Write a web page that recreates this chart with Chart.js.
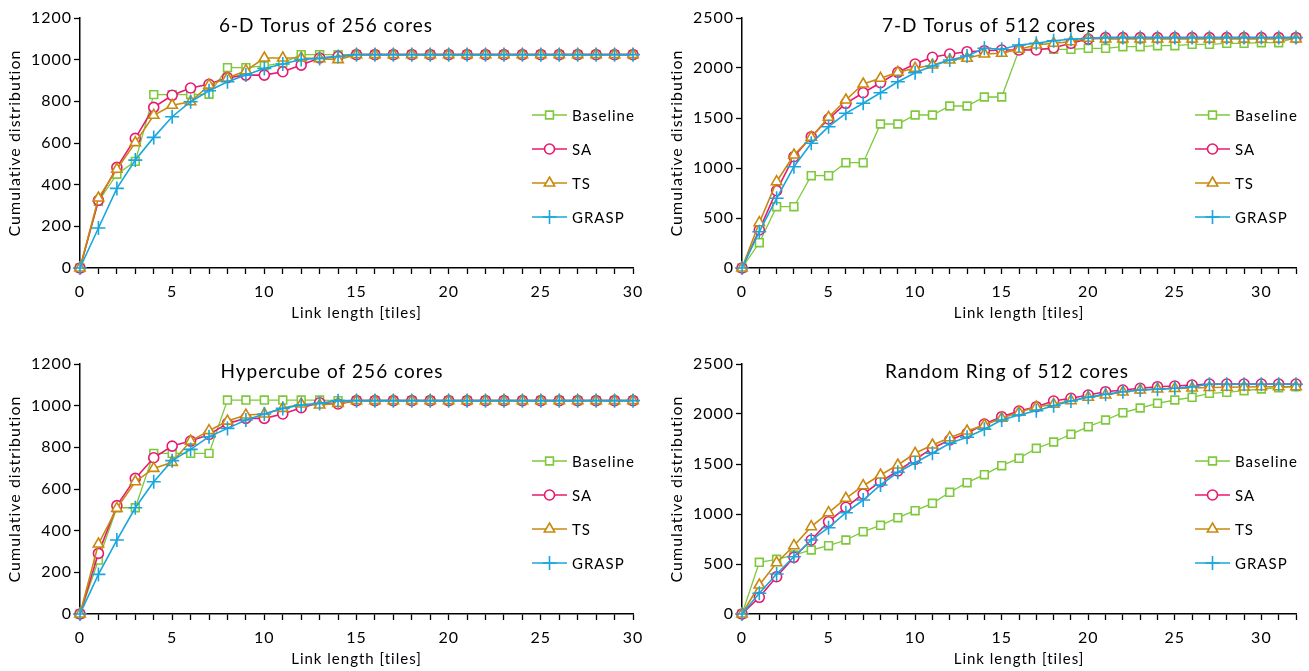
<!DOCTYPE html>
<html lang="en">

<head>
    <meta charset="UTF-8">
    <title>Cumulative distribution of link length</title>
    <script src="https://cdn.jsdelivr.net/npm/chart.js"></script>
    <style>
        body { margin: 0; background: #fff; }
        .cell { position: absolute; height: 325px; }
    </style>
</head>

<body>
    <div class="cell" style="left:0;top:0;width:654px"><canvas id="torus6"></canvas></div>
    <div class="cell" style="left:662px;top:0;width:647px"><canvas id="torus7"></canvas></div>
    <div class="cell" style="left:0;top:346px;width:654px"><canvas id="hypercube"></canvas></div>
    <div class="cell" style="left:662px;top:346px;width:647px"><canvas id="ring"></canvas></div>

    <script>
        // link lengths (x)
        const lengths30 = [0, 1, 2, 3, 4, 5, 6, 7, 8, 9, 10, 11, 12, 13, 14, 15, 16, 17, 18, 19, 20, 21, 22, 23, 24, 25, 26, 27, 28, 29, 30];
        const lengths32 = [0, 1, 2, 3, 4, 5, 6, 7, 8, 9, 10, 11, 12, 13, 14, 15, 16, 17, 18, 19, 20, 21, 22, 23, 24, 25, 26, 27, 28, 29, 30, 31, 32];

        const seriesNames = ['Baseline', 'SA', 'TS', 'GRASP'];

        // 6-D Torus of 256 cores
        const torus6Baseline = [0, 320, 450, 512, 832, 832, 832, 834, 962, 962, 970, 985, 1024, 1024, 1024, 1024, 1024, 1024, 1024, 1024, 1024, 1024, 1024, 1024, 1024, 1024, 1024, 1024, 1024, 1024, 1024];
        const torus6SA = [0, 325, 483, 622, 771, 829, 864, 882, 914, 926, 926, 942, 974, 1008, 1015, 1024, 1024, 1024, 1024, 1024, 1024, 1024, 1024, 1024, 1024, 1024, 1024, 1024, 1024, 1024, 1024];
        const torus6TS = [0, 336, 474, 602, 733, 781, 798, 878, 912, 947, 1008, 1008, 1008, 1005, 1000, 1024, 1024, 1024, 1024, 1024, 1024, 1024, 1024, 1024, 1024, 1024, 1024, 1024, 1024, 1024, 1024];
        const torus6GRASP = [0, 192, 382, 518, 627, 726, 798, 851, 894, 926, 958, 979, 1001, 1006, 1015, 1024, 1024, 1024, 1024, 1024, 1024, 1024, 1024, 1024, 1024, 1024, 1024, 1024, 1024, 1024, 1024];

        // 7-D Torus of 512 cores
        const torus7Baseline = [0, 253, 613, 613, 923, 923, 1053, 1053, 1440, 1440, 1530, 1530, 1620, 1620, 1710, 1710, 2180, 2197, 2187, 2187, 2197, 2197, 2213, 2213, 2223, 2223, 2237, 2237, 2247, 2247, 2253, 2253, 2304];
        const torus7SA = [0, 380, 773, 1113, 1313, 1490, 1647, 1753, 1853, 1957, 2040, 2107, 2140, 2163, 2173, 2180, 2180, 2180, 2203, 2247, 2290, 2304, 2304, 2304, 2304, 2304, 2304, 2304, 2304, 2304, 2304, 2304, 2304];
        const torus7TS = [0, 453, 863, 1130, 1307, 1507, 1680, 1840, 1897, 1957, 1997, 2030, 2080, 2097, 2140, 2147, 2187, 2230, 2247, 2263, 2297, 2290, 2290, 2290, 2290, 2290, 2290, 2290, 2290, 2290, 2290, 2290, 2290];
        const torus7GRASP = [0, 363, 697, 1013, 1247, 1413, 1547, 1647, 1753, 1863, 1953, 2020, 2080, 2120, 2197, 2187, 2230, 2247, 2273, 2287, 2297, 2304, 2304, 2304, 2304, 2304, 2304, 2304, 2304, 2304, 2304, 2304, 2304];

        // Hypercube of 256 cores
        const hyperBaseline = [0, 259, 510, 510, 771, 771, 771, 771, 1027, 1027, 1027, 1027, 1027, 1027, 1024, 1024, 1024, 1024, 1024, 1024, 1024, 1024, 1024, 1024, 1024, 1024, 1024, 1024, 1024, 1024, 1024];
        const hyperSA = [0, 291, 520, 651, 750, 806, 830, 862, 915, 939, 939, 960, 990, 1014, 1008, 1024, 1024, 1024, 1024, 1024, 1024, 1024, 1024, 1024, 1024, 1024, 1024, 1024, 1024, 1024, 1024];
        const hyperTS = [0, 336, 507, 635, 699, 728, 830, 880, 926, 955, 960, 987, 1008, 1003, 1011, 1024, 1024, 1024, 1024, 1024, 1024, 1024, 1024, 1024, 1024, 1024, 1024, 1024, 1024, 1024, 1024];
        const hyperGRASP = [0, 190, 355, 510, 635, 736, 790, 851, 891, 931, 960, 987, 1003, 1011, 1024, 1024, 1024, 1024, 1024, 1024, 1024, 1024, 1024, 1024, 1024, 1024, 1024, 1024, 1024, 1024, 1024];

        // Random Ring of 512 cores
        const ringBaseline = [0, 517, 547, 590, 640, 683, 740, 823, 887, 963, 1033, 1107, 1217, 1313, 1393, 1483, 1557, 1657, 1720, 1797, 1873, 1940, 2013, 2060, 2107, 2140, 2167, 2207, 2217, 2233, 2250, 2263, 2273];
        const ringSA = [0, 167, 373, 567, 740, 923, 1067, 1200, 1323, 1430, 1547, 1657, 1740, 1807, 1900, 1973, 2030, 2073, 2130, 2157, 2190, 2223, 2240, 2257, 2273, 2280, 2290, 2300, 2300, 2300, 2300, 2300, 2300];
        const ringTS = [0, 290, 513, 683, 873, 1013, 1157, 1283, 1390, 1490, 1607, 1690, 1763, 1830, 1890, 1957, 2017, 2070, 2097, 2133, 2167, 2190, 2220, 2240, 2250, 2255, 2260, 2265, 2268, 2270, 2272, 2273, 2273];
        const ringGRASP = [0, 207, 400, 573, 740, 863, 1013, 1140, 1290, 1417, 1513, 1607, 1707, 1767, 1847, 1940, 1990, 2033, 2083, 2130, 2167, 2197, 2223, 2240, 2247, 2257, 2273, 2297, 2297, 2297, 2297, 2297, 2297];

        const styles = [
            { color: '#7DC93B', pointStyle: 'rect', radius: 5.5, order: 3, width: 1.3 },
            { color: '#E8196F', pointStyle: 'circle', radius: 5, order: 2, width: 1.6 },
            { color: '#C88A0E', pointStyle: 'triangle', radius: 6, order: 1, width: 1.6 },
            { color: '#17A6DD', pointStyle: 'cross', radius: 7, order: 0, width: 1.6 },
        ];

        const FONT = 'Lato';

        // widen the text a little, like the original Calibri rendering
        const spacingPlugin = {
            id: 'spacing',
            beforeUpdate(chart) { chart.ctx.letterSpacing = '1px'; },
            beforeDraw(chart) { chart.ctx.letterSpacing = '1px'; }
        };

        // title and legend drawn inside the plot area
        const insidePlugin = {
            id: 'inside',
            afterDraw(chart, args, opts) {
                const ctx = chart.ctx;
                const area = chart.chartArea;
                ctx.save();
                ctx.fillStyle = '#000';
                ctx.font = '19px ' + FONT;
                ctx.textAlign = 'center';
                ctx.textBaseline = 'middle';
                ctx.fillText(opts.title, opts.titleX, area.top + 8);

                ctx.font = '15px ' + FONT;
                ctx.textAlign = 'left';
                chart.data.datasets.forEach((ds, i) => {
                    const x0 = area.right - 101;
                    const y = area.top + 97 + i * 34;
                    ctx.strokeStyle = ds.borderColor;
                    ctx.lineWidth = ds.borderWidth;
                    ctx.beginPath();
                    ctx.moveTo(x0, y);
                    ctx.lineTo(x0 + 35, y);
                    ctx.stroke();
                    ctx.fillStyle = '#fff';
                    ctx.lineWidth = 1.6;
                    Chart.helpers.drawPoint(ctx, { pointStyle: ds.pointStyle, radius: ds.pointRadius, rotation: 0, borderWidth: 1.6 }, x0 + 17.5, y);
                    ctx.fillStyle = '#000';
                    ctx.fillText(ds.label, x0 + 40, y + 1);
                });
                ctx.restore();
            }
        };

        function makeChart(id, title, titleX, xs, values, xMax, yMax, yStep, rightPad) {
            const datasets = values.map((vals, i) => ({
                label: seriesNames[i],
                data: vals.map((v, k) => ({ x: xs[k], y: v })),
                borderColor: styles[i].color,
                backgroundColor: '#fff',
                borderWidth: styles[i].width,
                pointStyle: styles[i].pointStyle,
                pointRadius: styles[i].radius,
                pointBorderWidth: 1.6,
                pointBackgroundColor: '#fff',
                pointBorderColor: styles[i].color,
                order: styles[i].order,
                tension: 0,
                clip: false,
            }));

            new Chart(document.getElementById(id), {
                type: 'line',
                data: { datasets },
                plugins: [spacingPlugin, insidePlugin],
                options: {
                    responsive: true,
                    maintainAspectRatio: false,
                    animation: false,
                    layout: { padding: { top: 18, right: rightPad, left: 0, bottom: 0 } },
                    plugins: {
                        legend: { display: false },
                        tooltip: { enabled: false },
                        inside: { title, titleX },
                    },
                    scales: {
                        x: {
                            type: 'linear',
                            min: 0,
                            max: xMax,
                            afterFit: (s) => { s.height = 57; },
                            ticks: {
                                stepSize: 1,
                                autoSkip: false,
                                maxRotation: 0,
                                padding: 8,
                                color: '#000',
                                font: { family: FONT, size: 16 },
                                callback: (v) => (v % 5 === 0 ? String(v) : ''),
                            },
                            grid: { drawOnChartArea: false, tickLength: 6, color: '#000', tickWidth: 1.3 },
                            border: { color: '#000', width: 1.5 },
                            title: {
                                display: true,
                                text: 'Link length [tiles]',
                                color: '#000',
                                font: { family: FONT, size: 15 },
                                padding: { top: 0, bottom: 3 },
                            },
                        },
                        y: {
                            min: 0,
                            max: yMax,
                            afterFit: (s) => { s.width = 80; },
                            ticks: {
                                stepSize: yStep,
                                padding: 2,
                                color: '#000',
                                font: { family: FONT, size: 16 },
                                callback: (v) => String(v),
                            },
                            grid: { drawOnChartArea: false, tickLength: 6, color: '#000', tickWidth: 1.3 },
                            border: { color: '#000', width: 1.5 },
                            title: {
                                display: true,
                                text: 'Cumulative distribution',
                                color: '#000',
                                font: { family: FONT, size: 16 },
                                padding: { top: 5, bottom: 0 },
                            },
                        },
                    },
                },
            });
        }

        makeChart('torus6', '6-D Torus of 256 cores', 326, lengths30,
            [torus6Baseline, torus6SA, torus6TS, torus6GRASP], 30, 1200, 200, 21);
        makeChart('torus7', '7-D Torus of 512 cores', 327, lengths32,
            [torus7Baseline, torus7SA, torus7TS, torus7GRASP], 32, 2500, 500, 13);
        makeChart('hypercube', 'Hypercube of 256 cores', 332, lengths30,
            [hyperBaseline, hyperSA, hyperTS, hyperGRASP], 30, 1200, 200, 21);
        makeChart('ring', 'Random Ring of 512 cores', 345, lengths32,
            [ringBaseline, ringSA, ringTS, ringGRASP], 32, 2500, 500, 13);
    </script>

</body>

</html>
